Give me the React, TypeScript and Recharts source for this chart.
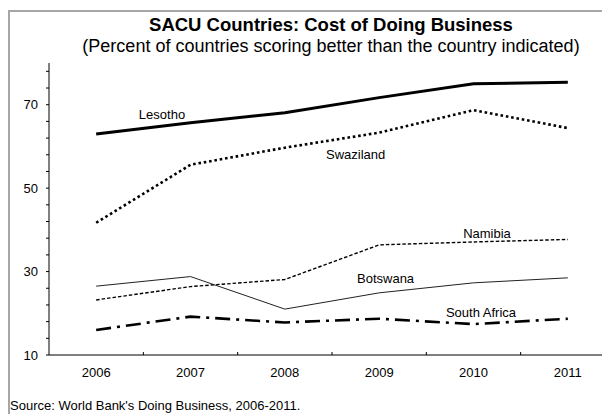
import React from 'react';
import { LineChart, Line, XAxis, YAxis } from 'recharts';

const years = ['2006', '2007', '2008', '2009', '2010', '2011'];
const lesotho = [63.0, 65.7, 68.1, 71.7, 75.0, 75.4];
const swaziland = [41.7, 55.6, 59.7, 63.3, 68.7, 64.4];
const namibia = [23.2, 26.4, 28.1, 36.4, 37.1, 37.7];
const botswana = [26.5, 28.8, 21.0, 24.9, 27.3, 28.5];
const southAfrica = [16.0, 19.2, 17.8, 18.7, 17.4, 18.7];
const yTicks = [10, 14, 18, 22, 26, 30, 34, 38, 42, 46, 50, 54, 58, 62, 66, 70, 74, 78];
const yLabels = [10, 30, 50, 70];

const data = years.map((year, i) => ({
  year,
  lesotho: lesotho[i],
  swaziland: swaziland[i],
  namibia: namibia[i],
  botswana: botswana[i],
  southAfrica: southAfrica[i],
}));

const FONT = '"Liberation Sans", Arial, sans-serif';
const CHART_W = 620;
const CHART_H = 406;
const M_TOP = 55;
const M_RIGHT = 13;
const Y_W = 41;
const X_H = 59;
const PLOT_W = CHART_W - M_RIGHT - Y_W;
const HALF = PLOT_W / (years.length * 2);

const XTick = (props: any) => {
  const { x, y, payload, index } = props;
  return (
    <g>
      <text x={x} y={y + 22} textAnchor="middle" fontSize={13} fill="#000" fontFamily={FONT}>
        {payload.value}
      </text>
      {index < years.length - 1 && (
        <line x1={x + HALF} x2={x + HALF} y1={y} y2={y - 3} stroke="#000" strokeWidth={1} />
      )}
    </g>
  );
};

export default function App() {
  return (
    <div style={{ position: 'relative', width: 602, height: 406, overflow: 'hidden', fontFamily: FONT }}>
      <LineChart
        width={CHART_W}
        height={CHART_H}
        data={data}
        margin={{ top: M_TOP, right: M_RIGHT, bottom: 0, left: 0 }}
      >
        <XAxis
          dataKey="year"
          height={X_H}
          padding={{ left: HALF, right: HALF }}
          axisLine={{ stroke: '#000', strokeWidth: 1 }}
          tickLine={false}
          tickSize={0}
          tickMargin={0}
          interval={0}
          tick={(p: any) => <XTick {...p} />}
        />
        <YAxis
          width={Y_W}
          domain={[10, 80]}
          ticks={yTicks}
          interval={0}
          allowDataOverflow
          tickFormatter={(v: number) => (yLabels.includes(v) ? String(v) : '')}
          axisLine={{ stroke: '#000', strokeWidth: 1 }}
          tickLine={{ stroke: '#000', strokeWidth: 1 }}
          tickSize={3}
          tickMargin={8}
          tick={{ fontSize: 13, fill: '#000', fontFamily: FONT }}
        />
        <Line type="linear" dataKey="lesotho" stroke="#000" strokeWidth={3} dot={false} isAnimationActive={false} />
        <Line type="linear" dataKey="swaziland" stroke="#000" strokeWidth={2.6} strokeDasharray="2.6 2.8" dot={false} isAnimationActive={false} />
        <Line type="linear" dataKey="namibia" stroke="#000" strokeWidth={1.4} strokeDasharray="3.5 2" dot={false} isAnimationActive={false} />
        <Line type="linear" dataKey="botswana" stroke="#222" strokeWidth={1} dot={false} isAnimationActive={false} />
        <Line type="linear" dataKey="southAfrica" stroke="#000" strokeWidth={2.6} strokeDasharray="15 6 3 6" dot={false} isAnimationActive={false} />
      </LineChart>
      <svg
        width={610}
        height={414}
        style={{ position: 'absolute', left: -8, top: -8, pointerEvents: 'none' }}
        fontFamily={FONT}
      >
        <rect x={9} y={11} width={700} height={500} fill="none" stroke="#a6a6a6" strokeWidth={2} />
        <text x={331} y={31} textAnchor="middle" fontSize={18.5} fontWeight="bold" fill="#000">
          SACU Countries: Cost of Doing Business
        </text>
        <text x={331} y={52} textAnchor="middle" fontSize={18} fill="#000">
          (Percent of countries scoring better than the country indicated)
        </text>
        <text x={162} y={119} textAnchor="middle" fontSize={13} fill="#000">Lesotho</text>
        <text x={326} y={159} fontSize={13} fill="#000">Swaziland</text>
        <text x={487} y={238} textAnchor="middle" fontSize={13} fill="#000">Namibia</text>
        <text x={357} y={283} fontSize={13} fill="#000">Botswana</text>
        <text x={481} y={317} textAnchor="middle" fontSize={13} fill="#000">South Africa</text>
        <text x={10} y={410} fontSize={13} fill="#000">Source: World Bank's Doing Business, 2006-2011.</text>
      </svg>
    </div>
  );
}
